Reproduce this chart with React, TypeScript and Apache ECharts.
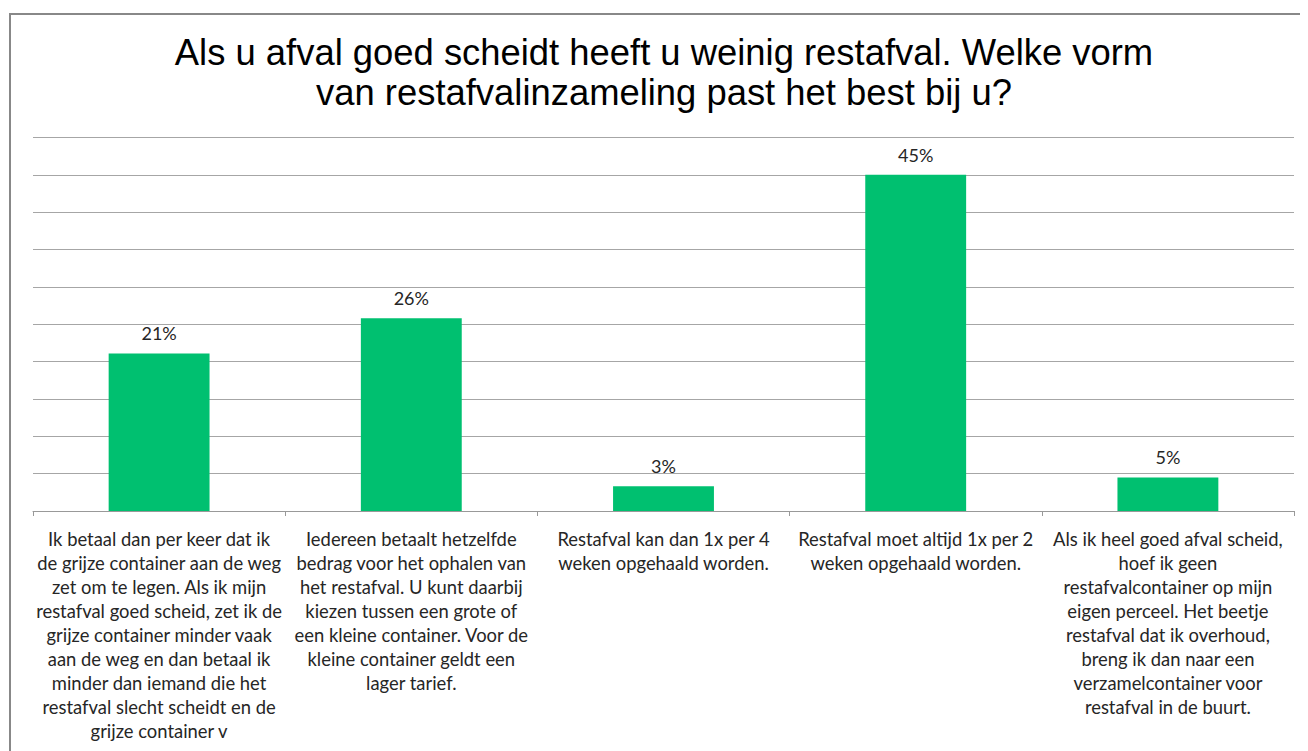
import React, { useEffect, useRef } from "react";
import * as echarts from "echarts";

const titleText =
  "Als u afval goed scheidt heeft u weinig restafval. Welke vorm\nvan restafvalinzameling past het best bij u?";

const categories = [
  "Ik betaal dan per keer dat ik\nde grijze container aan de weg\nzet om te legen. Als ik mijn\nrestafval goed scheid, zet ik de\ngrijze container minder vaak\naan de weg en dan betaal ik\nminder dan iemand die het\nrestafval slecht scheidt en de\ngrijze container v",
  "Iedereen betaalt hetzelfde\nbedrag voor het ophalen van\nhet restafval. U kunt daarbij\nkiezen tussen een grote of\neen kleine container. Voor de\nkleine container geldt een\nlager tarief.",
  "Restafval kan dan 1x per 4\nweken opgehaald worden.",
  "Restafval moet altijd 1x per 2\nweken opgehaald worden.",
  "Als ik heel goed afval scheid,\nhoef ik geen\nrestafvalcontainer op mijn\neigen perceel. Het beetje\nrestafval dat ik overhoud,\nbreng ik dan naar een\nverzamelcontainer voor\nrestafval in de buurt.",
];

const values = [21.1, 25.8, 3.3, 45.0, 4.5];

const labelFont = "Lato, 'Open Sans', sans-serif";

export default function App() {
  const ref = useRef<HTMLDivElement>(null);
  useEffect(() => {
    if (!ref.current) return;
    const chart = echarts.init(ref.current, null, { renderer: "svg" });
    chart.setOption({
      animation: false,
      backgroundColor: "#ffffff",
      title: {
        text: titleText,
        left: 651,
        textAlign: "center",
        top: 19,
        textStyle: {
          fontFamily: "'Liberation Sans', Arial, sans-serif",
          fontSize: 36.4,
          fontWeight: "normal",
          color: "#000000",
          lineHeight: 40,
        },
      },
      graphic: [
        {
          type: "rect",
          shape: { x: 2, y: 6, width: 1400, height: 900 },
          style: { fill: "none", stroke: "#888888", lineWidth: 2 },
          silent: true,
        },
      ],
      grid: { left: 25, right: 14, top: 129.5, bottom: 240, containLabel: false },
      xAxis: {
        type: "category",
        data: categories,
        axisLine: { show: true, lineStyle: { color: "#999999", width: 1 } },
        axisTick: { show: true, length: 5, lineStyle: { color: "#999999" } },
        axisLabel: {
          interval: 0,
          margin: 16,
          fontFamily: labelFont,
          fontSize: 18.4,
          lineHeight: 24,
          color: "#262626",
          align: "center",
        },
      },
      yAxis: {
        type: "value",
        min: 0,
        max: 50,
        interval: 5,
        axisLabel: { show: false },
        axisLine: { show: false },
        axisTick: { show: false },
        splitLine: { show: true, lineStyle: { color: "#a6a6a6", width: 1 } },
      },
      series: [
        {
          type: "bar",
          data: values,
          barWidth: "40%",
          itemStyle: { color: "#00c070" },
          label: {
            show: true,
            position: "top",
            distance: 11,
            formatter: (p: any) => Math.round(p.value) + "%",
            fontFamily: labelFont,
            fontSize: 18,
            color: "#262626",
          },
        },
      ],
    });
    return () => chart.dispose();
  }, []);
  return <div ref={ref} style={{ width: 1300, height: 743 }} />;
}
